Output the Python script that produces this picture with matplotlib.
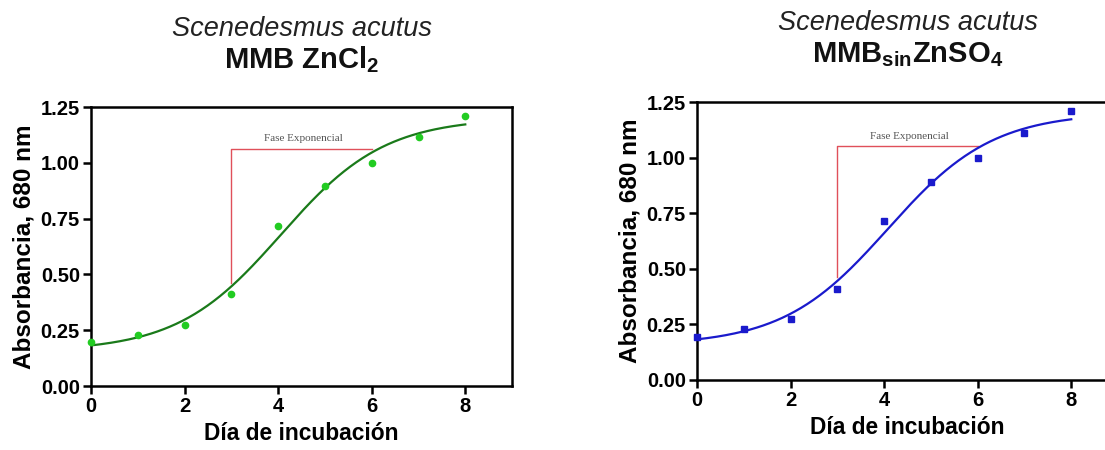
import numpy as np
import matplotlib
matplotlib.use("Agg")
import matplotlib.pyplot as plt

# absorbance readings per incubation day
dias = [0, 1, 2, 3, 4, 5, 6, 7, 8]
abs_zncl2 = [0.195, 0.23, 0.275, 0.41, 0.715, 0.895, 1.0, 1.115, 1.21]
abs_sin_znso4 = [0.195, 0.23, 0.275, 0.41, 0.715, 0.89, 1.0, 1.11, 1.21]

# exponential-phase bracket (start day, end day, bottom, top)
fase_zncl2 = (3, 6, 0.46, 1.062)
fase_znso4 = (3, 6, 0.463, 1.052)

yticks = [0.0, 0.25, 0.5, 0.75, 1.0, 1.25]
xticks = [0, 2, 4, 6, 8]

plt.rcParams['font.family'] = ['Liberation Sans', 'DejaVu Sans']
plt.rcParams['mathtext.fontset'] = 'custom'
plt.rcParams['mathtext.rm'] = 'Liberation Sans:bold'
plt.rcParams['mathtext.bf'] = 'Liberation Sans:bold'


def fit_logistic(x, y):
    """Boltzmann sigmoid fit: grid over x0,k, linear least squares for bottom/span"""
    x = np.asarray(x, float)
    y = np.asarray(y, float)
    best = None
    for x0 in np.linspace(2.0, 6.0, 201):
        for k in np.linspace(0.3, 2.0, 171):
            s = 1.0 / (1.0 + np.exp(-k * (x - x0)))
            A = np.column_stack([np.ones_like(x), s])
            coef, *_ = np.linalg.lstsq(A, y, rcond=None)
            err = np.sum((A @ coef - y) ** 2)
            if best is None or err < best[0]:
                best = (err, x0, k, coef)
    _, x0, k, coef = best
    return lambda t: coef[0] + coef[1] / (1.0 + np.exp(-k * (t - x0)))


def draw_panel(fig, rect, y, line_color, marker, marker_color, fase, text_y,
               subtitle, title_y):
    ax = fig.add_axes(rect)
    f = fit_logistic(dias, y)
    xs = np.linspace(0, 8, 300)
    ax.plot(xs, f(xs), color=line_color, lw=1.6, zorder=3)
    ax.plot(dias, y, linestyle='none', marker=marker, ms=4.5,
            color=marker_color, clip_on=False, zorder=4)

    x0, x1, yb, yt = fase
    ax.plot([x0, x0, x1], [yb, yt, yt], color='#e0505a', lw=1.0, zorder=2)
    ax.text((x0 + x1) / 2 + 0.05, text_y, 'Fase Exponencial', family='Liberation Serif',
            fontsize=8, color='#555555', ha='center', va='center')

    ax.set_xlim(0, 9)
    ax.set_ylim(0, 1.25)
    ax.set_xticks(xticks)
    ax.set_yticks(yticks)
    ax.set_yticklabels([f'{v:.2f}' for v in yticks])
    for s in ax.spines.values():
        s.set_linewidth(1.8)
    ax.tick_params(direction='out', length=6, width=1.8, labelsize=14.5, pad=2)
    for lab in ax.get_xticklabels() + ax.get_yticklabels():
        lab.set_fontweight('bold')
    ax.set_xlabel('Día de incubación', fontsize=16.4, fontweight='bold', labelpad=4)
    ax.set_ylabel('Absorbancia, 680 nm', fontsize=17.5, fontweight='bold', labelpad=4)

    cx = rect[0] + rect[2] / 2
    fig.text(cx, title_y[0], 'Scenedesmus acutus', fontsize=19.5, style='italic',
             ha='center', va='center', color='#222222')
    fig.text(cx, title_y[1], subtitle, fontsize=21, fontweight='bold',
             ha='center', va='center', color='#111111')
    return ax


fig = plt.figure(figsize=(11.05, 4.5), dpi=100)

draw_panel(fig, [0.0824, 0.1422, 0.381, 0.62], abs_zncl2, '#1a7a1a', 'o', '#22cc22',
           fase_zncl2, 1.11, r'MMB ZnCl$_{\mathbf{2}}$', (0.935, 0.868))
draw_panel(fig, [0.6308, 0.1556, 0.381, 0.6177], abs_sin_znso4, '#1a1acc', 's', '#1a1acc',
           fase_znso4, 1.093, r'MMB$_{\mathbf{sin}}$ZnSO$_{\mathbf{4}}$', (0.948, 0.878))

fig.savefig('out.png', dpi=100)
